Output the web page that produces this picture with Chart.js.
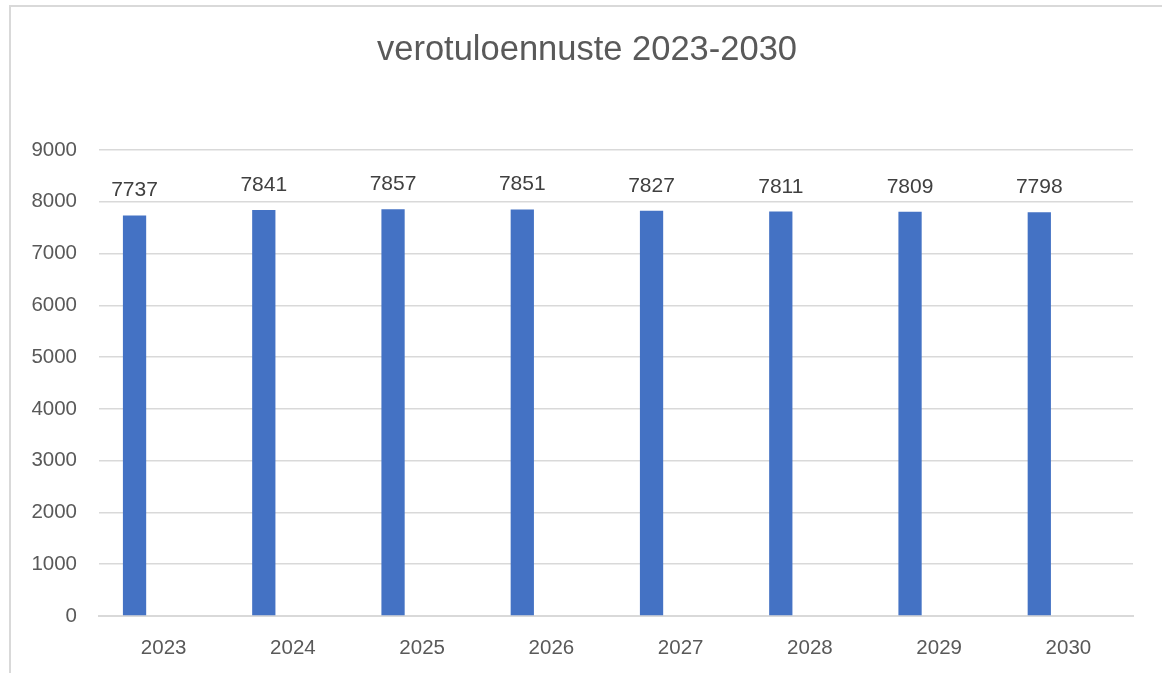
<!DOCTYPE html>
<html>
<head>
<meta charset="utf-8">
<script src="https://cdn.jsdelivr.net/npm/chart.js@4/dist/chart.umd.min.js"></script>
<style>
  html, body { margin: 0; padding: 0; background: #fff; overflow: hidden; }
  #frame { position: absolute; left: 9px; top: 5px; width: 2000px; height: 2000px;
           border-left: 2px solid #d9d9d9; border-top: 2px solid #d9d9d9; }
  #canvas { position: absolute; left: 0; top: 0; }
</style>
</head>
<body>
<div id="frame"></div>
<canvas id="canvas" width="1162" height="673"></canvas>
<script>
// data
var years = ['2023', '2024', '2025', '2026', '2027', '2028', '2029', '2030'];
var verotulot = [7737, 7841, 7857, 7851, 7827, 7811, 7809, 7798];
var empty_series = [null, null, null, null, null, null, null, null];
var chartTitle = 'verotuloennuste 2023-2030';

// title (frame-centred like Excel) and labels above the bars
var barLabels = {
  id: 'barLabels',
  afterDatasetsDraw: function(chart) {
    var ctx = chart.ctx;
    var meta = chart.getDatasetMeta(0);
    ctx.save();
    ctx.font = '34.5px "Liberation Sans", sans-serif';
    ctx.fillStyle = '#595959';
    ctx.textAlign = 'center';
    ctx.textBaseline = 'middle';
    ctx.fillText(chartTitle, 587, 50);

    ctx.font = '21px "Liberation Sans", sans-serif';
    ctx.fillStyle = '#404040';
    ctx.textBaseline = 'alphabetic';
    meta.data.forEach(function(bar, i) {
      ctx.fillText(verotulot[i], bar.x, bar.y - 19);
    });
    ctx.restore();
  }
};

new Chart(document.getElementById('canvas'), {
  type: 'bar',
  data: {
    labels: years,
    datasets: [
      { label: 'verotuloennuste', data: verotulot, backgroundColor: '#4472c4',
        categoryPercentage: 0.9, barPercentage: 0.4 },
      { label: '', data: empty_series, backgroundColor: '#ed7d31',
        categoryPercentage: 0.9, barPercentage: 0.4 }
    ]
  },
  options: {
    responsive: false,
    animation: false,
    layout: { padding: { top: 150, right: 29, left: 0, bottom: 0 } },
    plugins: {
      legend: { display: false },
      tooltip: { enabled: false },
      title: { display: false }
    },
    scales: {
      x: {
        grid: { display: false, drawTicks: false },
        border: { display: true, color: '#d9d9d9', width: 2 },
        ticks: { color: '#595959', padding: 20,
                 font: { family: '"Liberation Sans", sans-serif', size: 20.5 } },
        afterFit: function(scale) { scale.height = 57; }
      },
      y: {
        min: 0, max: 9000,
        ticks: { stepSize: 1000, color: '#595959', padding: 22,
                 callback: function(v) { return String(v); },
                 font: { family: '"Liberation Sans", sans-serif', size: 20.5 } },
        grid: { color: '#d9d9d9', lineWidth: 1.5, drawTicks: false },
        border: { display: false },
        afterFit: function(scale) { scale.width = 99; }
      }
    }
  },
  plugins: [barLabels]
});
</script>
</body>
</html>
